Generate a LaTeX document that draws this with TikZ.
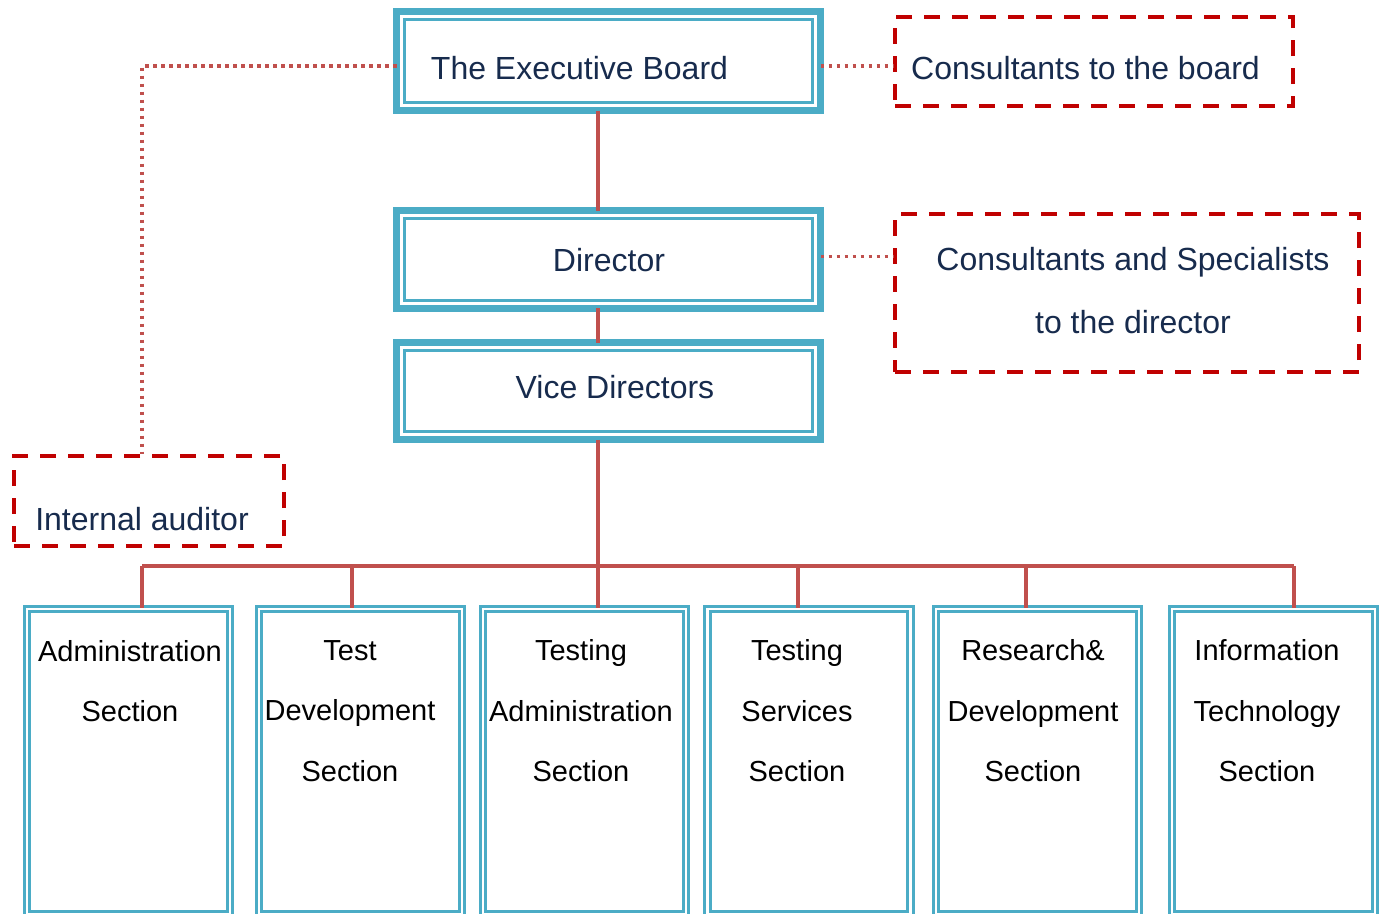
\documentclass[tikz,border=0pt]{standalone}
\usepackage{fontspec}
\setmainfont{Liberation Sans}
\definecolor{cblue}{RGB}{75,172,198}
\definecolor{cred}{RGB}{192,80,77}
\definecolor{dred}{RGB}{192,0,0}
\definecolor{navy}{RGB}{23,43,77}
\tikzset{bigbox/.style = {draw=cblue, line width=7pt, minimum width=424pt, inner sep=0, outer sep=0}}
\tikzset{secbox/.style = {draw=cblue, double=white, line width=2.7pt, double distance=2.7pt,
                          minimum width=203pt, minimum height=305pt, inner sep=0}}
\tikzset{dashbox/.style = {draw=dred, line width=4pt, dash pattern=on 16pt off 12pt, inner sep=0}}
\tikzset{link/.style = {draw=cred, line width=3.5pt}}
\tikzset{dotlink/.style = {draw=cred, line width=3.5pt, dash pattern=on 3.5pt off 4.5pt}}
\tikzset{toptext/.style = {text=navy, font=\fontsize{32}{63}\selectfont, align=center, inner sep=0}}
\tikzset{sectext/.style = {text=black, font=\fontsize{29}{60.5}\selectfont, align=center, inner sep=0}}

\begin{document}
\begin{tikzpicture}[x=1pt, y=-1pt]
    \useasboundingbox (0, 0) rectangle (1381, 913);

    % main chain
    \node [bigbox, minimum height=99pt] (board) at (608.5, 61) {};
    \node [bigbox, minimum height=97.5pt] (director) at (608.5, 259.25) {};
    \node [bigbox, minimum height=97pt] (vice) at (608.5, 391) {};
    \foreach \n in {board, director, vice} {
      \draw [cblue, line width=3pt] ([xshift=8pt, yshift=-8pt]\n.north west)
        rectangle ([xshift=-8pt, yshift=8pt]\n.south east);
    }
    \node [toptext] (boardtext) at (579.5, 68) {The Executive Board};
    \node [toptext] (directortext) at (609, 260) {Director};
    \node [toptext] (vicetext) at (615, 387) {Vice Directors};

    % consultants and auditor
    \node [dashbox, minimum width=398pt, minimum height=89pt] (cboard) at (1094, 61.5) {};
    \node [dashbox, minimum width=464pt, minimum height=158pt] (cdirector) at (1127, 293) {};
    \node [dashbox, minimum width=270pt, minimum height=90pt] (auditor) at (149, 501) {};
    \node [toptext] (cboardtext) at (1085.5, 68) {Consultants to the board};
    \node [toptext] (cdirectortext) at (1133, 291) {Consultants and Specialists\\to the director};
    \node [toptext] (auditortext) at (142, 519) {Internal auditor};

    % sections
    \foreach \n/\x in {1/128.5, 2/360.5, 3/584.5, 4/809, 5/1037.5, 6/1273.5} {
      \node [secbox] (sec\n) at (\x, 761.5) {};
    }
    \node [sectext] (sec1text) at (130, 681) {Administration\\Section};
    \node [sectext] (sec2text) at (350, 711) {Test\\Development\\Section};
    \node [sectext] (sec3text) at (581, 711) {Testing\\Administration\\Section};
    \node [sectext] (sec4text) at (797, 711) {Testing\\Services\\Section};
    \node [sectext] (sec5text) at (1033, 711) {Research\&\\Development\\Section};
    \node [sectext] (sec6text) at (1267, 711) {Information\\Technology\\Section};

    % connectors
    \draw [link] ([xshift=-10.5pt]board.south) -- ([xshift=-10.5pt]director.north);
    \draw [link] ([xshift=-10.5pt]director.south) -- ([xshift=-10.5pt]vice.north);
    \draw [link] ([xshift=-10.5pt]vice.south) -- ([xshift=13.5pt]sec3.north);
    \coordinate (busL) at (142, 566);
    \coordinate (busR) at (1294, 566);
    \draw [link] (busL) -- (busR);
    \foreach \n/\dx in {1/13.5, 2/-8.5, 4/-11, 5/-11.5, 6/20.5} {
      \draw [link] ([xshift=\dx pt]sec\n.north) -- ([xshift=\dx pt]sec\n.north |- busL);
    }

    \draw [dotlink] ([yshift=-5pt]board.west) -| ([xshift=-7pt]auditor.north);
    \draw [dotlink] ([yshift=-5pt]board.east) -- ([yshift=-5pt]board.east -| cboard.west);
    \draw [dotlink] ([yshift=3pt]director.east) -- ([yshift=3pt]director.east -| cdirector.west);
\end{tikzpicture}
\end{document}
